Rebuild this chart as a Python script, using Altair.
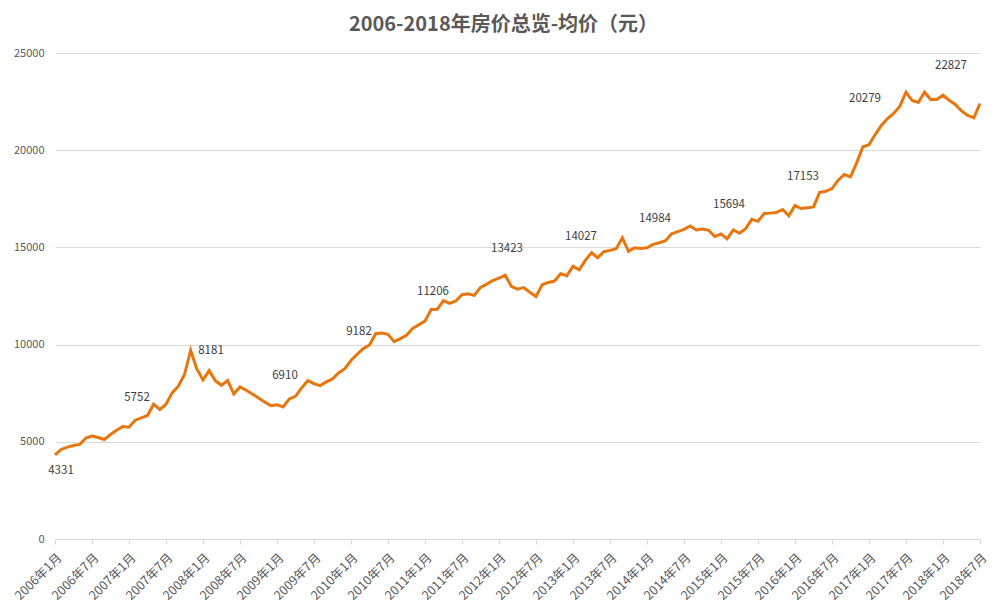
import altair as alt
import pandas as pd

# ---- data (average price, 元, monthly) ----
years = list(range(2006, 2019))
p2006 = [4331, 4606, 4726, 4812, 4863, 5188, 5291, 5222, 5120, 5376, 5599, 5790]
p2007 = [5752, 6113, 6233, 6352, 6934, 6660, 6934, 7517, 7859, 8458, 9708, 8749]
p2008 = [8181, 8662, 8148, 7908, 8148, 7462, 7822, 7650, 7462, 7256, 7050, 6861]
p2009 = [6910, 6793, 7205, 7342, 7770, 8148, 7993, 7890, 8079, 8234, 8542, 8765]
p2010 = [9182, 9505, 9795, 9983, 10561, 10595, 10527, 10153, 10306, 10476, 10833, 11020]
p2011 = [11206, 11802, 11819, 12261, 12125, 12244, 12567, 12618, 12533, 12941, 13111, 13298]
p2012 = [13423, 13570, 13000, 12850, 12930, 12690, 12470, 13080, 13199, 13268, 13645, 13542]
p2013 = [14027, 13851, 14331, 14726, 14468, 14777, 14846, 14931, 15497, 14794, 14983, 14949]
p2014 = [14984, 15154, 15240, 15340, 15700, 15814, 15932, 16102, 15898, 15949, 15881, 15559]
p2015 = [15694, 15441, 15898, 15729, 15966, 16441, 16339, 16746, 16763, 16797, 16949, 16627]
p2016 = [17153, 17000, 17034, 17085, 17831, 17885, 18028, 18457, 18748, 18628, 19348, 20172]
p2017 = [20279, 20806, 21269, 21629, 21887, 22264, 22984, 22555, 22452, 22984, 22607, 22607]
p2018 = [22827, 22573, 22350, 22024, 21784, 21664, 22401]

yearly = [p2006, p2007, p2008, p2009, p2010, p2011, p2012,
          p2013, p2014, p2015, p2016, p2017, p2018]

months = []
prices = []
for y, vals in zip(years, yearly):
    for m, v in enumerate(vals, start=1):
        months.append(f"{y}年{m}月")
        prices.append(v)

tick_labels = [mo for mo in months if mo.endswith("年1月") or mo.endswith("年7月")]

# annotated values (each January)
label_months = [f"{y}年1月" for y in years]
label_values = [4331, 5752, 8181, 6910, 9182, 11206, 13423,
                14027, 14984, 15694, 17153, 20279, 22827]
below_labels = ["2006年1月"]
left_labels = ["2017年1月"]

df = pd.DataFrame({"month": months, "price": prices})
lab = pd.DataFrame({"month": label_months, "price": label_values})
lab["place"] = ["below" if m in below_labels else ("left" if m in left_labels else "above")
                for m in lab["month"]]

FONT = "Noto Sans CJK SC"
GREY = "#595959"

x_enc = alt.X("month:O", sort=months,
              scale=alt.Scale(type="point", padding=0),
              axis=alt.Axis(values=tick_labels, title=None, labelAngle=-45,
                            labelFontSize=12.5, labelColor=GREY, labelFont=FONT,
                            domainColor="#D9D9D9", tickColor="#D9D9D9",
                            tickSize=5, labelPadding=7, grid=False))
y_enc = alt.Y("price:Q", scale=alt.Scale(domain=[0, 25000], nice=False),
              axis=alt.Axis(values=[0, 5000, 10000, 15000, 20000, 25000],
                            title=None, domain=False, ticks=False,
                            gridColor="#D9D9D9", labelColor=GREY,
                            labelFontSize=11, labelFont=FONT, labelPadding=11,
                            format="d"))

line = alt.Chart(df).mark_line(color="#E8760E", strokeWidth=3).encode(x=x_enc, y=y_enc)

text_style = dict(fontSize=11.5, font=FONT, color="#404040")
above = alt.Chart(lab).transform_filter(alt.datum.place == "above").mark_text(
    dx=8, dy=-29, **text_style).encode(x=alt.X("month:O", sort=months), y="price:Q",
                                        text=alt.Text("price:Q", format="d"))
below = alt.Chart(lab).transform_filter(alt.datum.place == "below").mark_text(
    dx=6, dy=16, **text_style).encode(x=alt.X("month:O", sort=months), y="price:Q",
                                       text=alt.Text("price:Q", format="d"))
left = alt.Chart(lab).transform_filter(alt.datum.place == "left").mark_text(
    dx=-4, dy=-46, **text_style).encode(x=alt.X("month:O", sort=months), y="price:Q",
                                         text=alt.Text("price:Q", format="d"))

chart = alt.layer(line, above, below, left).properties(
    width=925, height=486,
    title=alt.TitleParams("2006-2018年房价总览-均价（元）", fontSize=20, font=FONT,
                          fontWeight="bold", color=GREY, dx=-14, offset=12),
    autosize=alt.AutoSizeParams(type="none"),
    padding={"left": 47, "top": 45, "right": 20, "bottom": 65},
).configure_view(stroke=None)

chart.save("out.html", embed_options={"renderer": "svg", "actions": False})
